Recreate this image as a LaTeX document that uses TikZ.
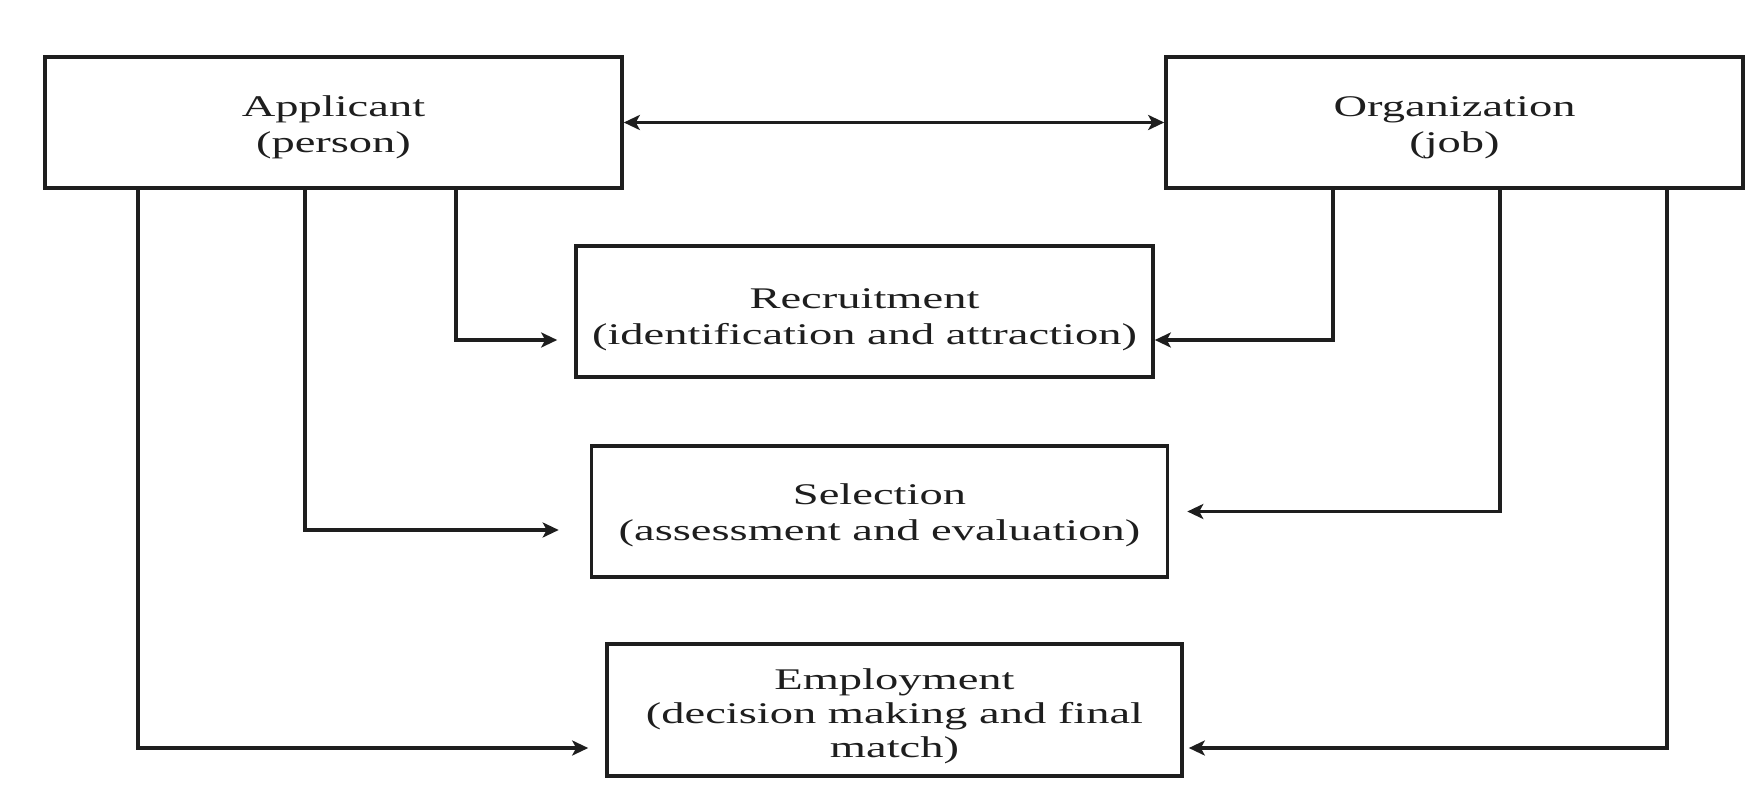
\documentclass[tikz,border=0pt]{standalone}
\usepackage{fontspec}
\setmainfont{Liberation Serif}[FakeStretch=1.55]
\usetikzlibrary{arrows.meta}
\definecolor{ink}{HTML}{1E1E1E}
\tikzset{
  box/.style={draw=ink, line width=3.6pt, rectangle, inner sep=0pt},
  lbl/.style={align=center, text=ink, font=\fontsize{30}{36}\selectfont, inner sep=0pt},
  conn/.style={draw=ink, line width=3.4pt,
    -{Stealth[length=16pt,width=15pt,inset=4pt]}},
  conn2/.style={draw=ink, line width=3.4pt,
    {Stealth[length=16pt,width=15pt,inset=4pt]}-{Stealth[length=16pt,width=15pt,inset=4pt]}}
}
\begin{document}
\begin{tikzpicture}[x=1pt,y=-1pt]
\useasboundingbox[fill=white] (0,0) rectangle (1761,805);
\node[box, minimum width=577pt, minimum height=131pt,
  label={[lbl,yshift=-5pt]center:{Applicant\\(person)}}] (app) at (333.5,122.5) {};
\node[box, minimum width=577pt, minimum height=131pt,
  label={[lbl,yshift=-5.5pt]center:{Organization\\(job)}}] (org) at (1454.5,122.5) {};
\node[box, minimum width=577pt, minimum height=131pt,
  label={[lbl,yshift=-8pt]center:{Recruitment\\(identification and attraction)}}] (rec) at (864.5,311.5) {};
\node[box, minimum width=576pt, minimum height=131pt,
  label={[lbl,yshift=-3.5pt]center:{Selection\\(assessment and evaluation)}}] (sel) at (879.5,511.5) {};
\node[box, minimum width=575pt, minimum height=132pt,
  label={[lbl,yshift=-6pt,font=\fontsize{30}{34}\selectfont]center:{Employment\\(decision making and final\\match)}}] (emp) at (894.5,710) {};
% top double arrow
\draw[conn2] (app.east) -- (org.west);
% applicant branches
\draw[conn] ([xshift=122.5pt]app.south) |- ([xshift=-17pt,yshift=-28.5pt]rec.west);
\draw[conn] ([xshift=-28.5pt]app.south) |- ([xshift=-31pt,yshift=-18.5pt]sel.west);
\draw[conn] ([xshift=-195.5pt]app.south) |- ([xshift=-17pt,yshift=-38pt]emp.west);
% organization branches
\draw[conn] ([xshift=-121.5pt]org.south) |- ([yshift=-28.5pt]rec.east);
\draw[conn] ([xshift=45.5pt]org.south) |- ([xshift=18pt]sel.east);
\draw[conn] ([xshift=212.5pt]org.south) |- ([xshift=5pt,yshift=-38pt]emp.east);
\end{tikzpicture}
\end{document}
